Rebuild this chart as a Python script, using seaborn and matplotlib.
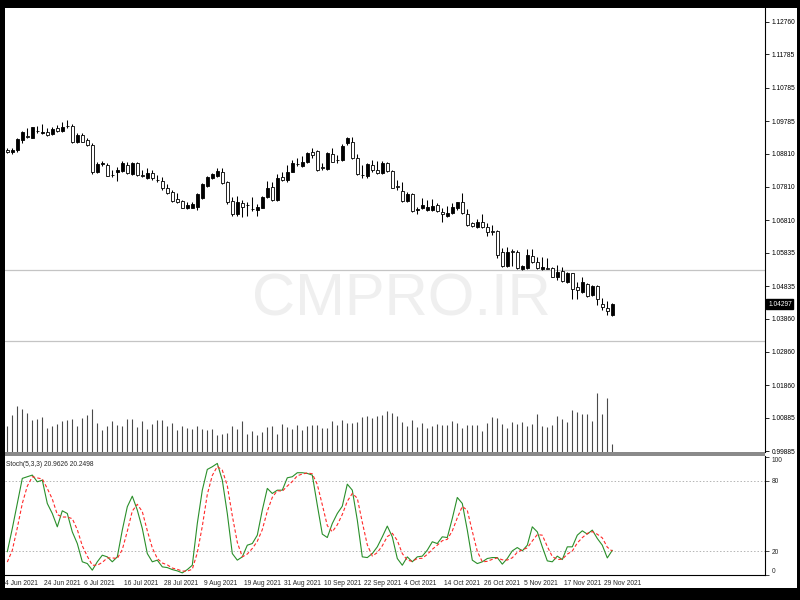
import numpy as np
import matplotlib
matplotlib.use("Agg")
import matplotlib.pyplot as plt
import seaborn as sns
from matplotlib.patches import Rectangle
from matplotlib.transforms import blended_transform_factory

# --- DATA (daily candles) ---
opens = [1.0893, 1.0886, 1.0892, 1.0922, 1.0933, 1.0929, 1.0950, 1.0944, 1.0947, 1.0940,
         1.0957, 1.0950, 1.0963, 1.0964, 1.0915, 1.0937, 1.0922, 1.0907, 1.0825, 1.0851,
         1.0847, 1.0818, 1.0825, 1.0830, 1.0847, 1.0820, 1.0852, 1.0816, 1.0807, 1.0822,
         1.0803, 1.0799, 1.0779, 1.0767, 1.0745, 1.0739, 1.0717, 1.0719, 1.0722, 1.0749,
         1.0785, 1.0807, 1.0815, 1.0827, 1.0795, 1.0739, 1.0699, 1.0732, 1.0728, 1.0716,
         1.0712, 1.0719, 1.0752, 1.0782, 1.0742, 1.0812, 1.0802, 1.0827, 1.0849, 1.0845,
         1.0855, 1.0887, 1.0889, 1.0840, 1.0835, 1.0879, 1.0861, 1.0862, 1.0912, 1.0915,
         1.0867, 1.0818, 1.0815, 1.0847, 1.0832, 1.0822, 1.0852, 1.0829, 1.0783, 1.0769,
         1.0739, 1.0759, 1.0713, 1.0717, 1.0712, 1.0712, 1.0727, 1.0707, 1.0695, 1.0702,
         1.0717, 1.0737, 1.0700, 1.0672, 1.0660, 1.0675, 1.0662, 1.0648, 1.0650, 1.0587,
         1.0544, 1.0588, 1.0587, 1.0534, 1.0537, 1.0574, 1.0557, 1.0534, 1.0538, 1.0537,
         1.0510, 1.0529, 1.0497, 1.0522, 1.0482, 1.0467, 1.0490, 1.0457, 1.0484, 1.0430,
         1.0417, 1.0397]
highs = [1.0897, 1.0899, 1.0927, 1.0950, 1.0958, 1.0962, 1.0964, 1.0970, 1.0958, 1.0962,
         1.0967, 1.0977, 1.0982, 1.0970, 1.0942, 1.0942, 1.0927, 1.0912, 1.0857, 1.0860,
         1.0854, 1.0832, 1.0842, 1.0860, 1.0857, 1.0857, 1.0857, 1.0832, 1.0837, 1.0832,
         1.0817, 1.0812, 1.0789, 1.0772, 1.0762, 1.0742, 1.0735, 1.0735, 1.0762, 1.0792,
         1.0815, 1.0822, 1.0839, 1.0837, 1.0799, 1.0752, 1.0755, 1.0742, 1.0735, 1.0752,
         1.0729, 1.0755, 1.0799, 1.0797, 1.0819, 1.0827, 1.0847, 1.0862, 1.0869, 1.0875,
         1.0887, 1.0897, 1.0892, 1.0852, 1.0885, 1.0899, 1.0877, 1.0909, 1.0932, 1.0932,
         1.0879, 1.0847, 1.0852, 1.0862, 1.0859, 1.0859, 1.0857, 1.0832, 1.0802, 1.0797,
         1.0767, 1.0762, 1.0722, 1.0747, 1.0742, 1.0745, 1.0732, 1.0717, 1.0725, 1.0732,
         1.0737, 1.0762, 1.0714, 1.0677, 1.0684, 1.0700, 1.0672, 1.0667, 1.0652, 1.0597,
         1.0600, 1.0594, 1.0592, 1.0547, 1.0594, 1.0594, 1.0572, 1.0572, 1.0567, 1.0540,
         1.0547, 1.0542, 1.0527, 1.0524, 1.0497, 1.0510, 1.0492, 1.0487, 1.0487, 1.0447,
         1.0440, 1.0432]
lows = [1.0884, 1.0879, 1.0887, 1.0912, 1.0928, 1.0927, 1.0943, 1.0940, 1.0935, 1.0937,
        1.0947, 1.0947, 1.0957, 1.0914, 1.0914, 1.0915, 1.0905, 1.0820, 1.0822, 1.0844,
        1.0814, 1.0812, 1.0799, 1.0827, 1.0820, 1.0817, 1.0814, 1.0812, 1.0805, 1.0802,
        1.0795, 1.0772, 1.0759, 1.0735, 1.0732, 1.0717, 1.0715, 1.0717, 1.0712, 1.0745,
        1.0782, 1.0804, 1.0812, 1.0789, 1.0729, 1.0695, 1.0695, 1.0692, 1.0695, 1.0709,
        1.0695, 1.0717, 1.0747, 1.0739, 1.0739, 1.0799, 1.0797, 1.0825, 1.0845, 1.0842,
        1.0852, 1.0867, 1.0829, 1.0832, 1.0832, 1.0855, 1.0852, 1.0859, 1.0907, 1.0865,
        1.0817, 1.0807, 1.0809, 1.0827, 1.0819, 1.0819, 1.0827, 1.0777, 1.0772, 1.0735,
        1.0735, 1.0705, 1.0699, 1.0715, 1.0709, 1.0709, 1.0705, 1.0677, 1.0692, 1.0699,
        1.0712, 1.0700, 1.0664, 1.0660, 1.0657, 1.0657, 1.0634, 1.0637, 1.0567, 1.0540,
        1.0542, 1.0544, 1.0534, 1.0532, 1.0534, 1.0554, 1.0534, 1.0532, 1.0534, 1.0510,
        1.0502, 1.0497, 1.0494, 1.0444, 1.0444, 1.0464, 1.0452, 1.0454, 1.0427, 1.0412,
        1.0397, 1.0395]
closes = [1.0887, 1.0892, 1.0924, 1.0947, 1.0931, 1.0960, 1.0948, 1.0946, 1.0937, 1.0955,
          1.0949, 1.0962, 1.0965, 1.0915, 1.0937, 1.0917, 1.0907, 1.0827, 1.0849, 1.0853,
          1.0815, 1.0816, 1.0832, 1.0852, 1.0822, 1.0852, 1.0817, 1.0814, 1.0824, 1.0807,
          1.0801, 1.0777, 1.0762, 1.0739, 1.0735, 1.0719, 1.0727, 1.0729, 1.0760, 1.0789,
          1.0812, 1.0819, 1.0829, 1.0792, 1.0735, 1.0699, 1.0735, 1.0722, 1.0726, 1.0714,
          1.0722, 1.0752, 1.0779, 1.0742, 1.0809, 1.0802, 1.0825, 1.0852, 1.0851, 1.0855,
          1.0882, 1.0877, 1.0832, 1.0838, 1.0882, 1.0857, 1.0863, 1.0905, 1.0927, 1.0867,
          1.0819, 1.0816, 1.0849, 1.0832, 1.0822, 1.0852, 1.0829, 1.0779, 1.0781, 1.0739,
          1.0759, 1.0709, 1.0715, 1.0727, 1.0722, 1.0724, 1.0709, 1.0699, 1.0702, 1.0722,
          1.0735, 1.0702, 1.0667, 1.0664, 1.0677, 1.0662, 1.0647, 1.0646, 1.0577, 1.0544,
          1.0587, 1.0586, 1.0537, 1.0544, 1.0577, 1.0557, 1.0537, 1.0542, 1.0536, 1.0512,
          1.0527, 1.0500, 1.0522, 1.0474, 1.0472, 1.0497, 1.0454, 1.0484, 1.0444, 1.0420,
          1.0410, 1.04297]
volumes = [77, 110, 137, 128, 117, 95, 98, 105, 72, 77,
           85, 92, 95, 98, 77, 102, 110, 128, 87, 65,
           77, 92, 80, 77, 98, 98, 74, 92, 70, 85,
           95, 95, 79, 87, 65, 77, 72, 70, 77, 70,
           65, 68, 52, 55, 58, 77, 70, 92, 54, 62,
           50, 60, 74, 77, 54, 84, 74, 68, 80, 65,
           79, 80, 80, 72, 72, 92, 82, 95, 87, 87,
           90, 104, 107, 102, 108, 110, 122, 118, 107, 90,
           78, 96, 75, 87, 72, 77, 83, 80, 80, 92,
           87, 72, 80, 80, 80, 63, 87, 105, 102, 84,
           72, 90, 84, 90, 77, 84, 114, 77, 74, 82,
           107, 99, 90, 125, 120, 114, 114, 93, 177, 114,
           162, 24]
stoch_k = [19.7, 39.5, 60.7, 82.0, 83.4, 84.8, 79.1, 80.5, 60.7, 52.2,
           40.9, 54.5, 52.2, 36.6, 26.7, 11.2, 9.7, 4.1, 11.2, 16.8,
           15.4, 11.2, 15.4, 38.1, 57.9, 66.9, 55.1, 39.5, 18.2, 11.2,
           12.6, 6.9, 6.3, 4.6, 3.5, 1.8, 4.6, 8.3, 43.7, 72.0,
           89.6, 91.9, 94.7, 80.5, 52.2, 18.2, 12.6, 15.4, 25.3, 26.7,
           33.8, 55.1, 73.5, 69.2, 72.0, 72.0, 82.5, 83.4, 86.8, 86.8,
           86.2, 84.8, 59.3, 34.7, 31.8, 43.7, 52.2, 58.4, 77.1, 72.0,
           46.6, 15.4, 14.8, 18.2, 23.9, 32.4, 41.5, 32.4, 14.0, 8.3,
           15.4, 11.2, 15.4, 16.0, 21.1, 28.2, 26.7, 32.4, 31.8, 48.0,
           65.8, 60.7, 38.1, 12.6, 9.7, 11.2, 14.0, 14.8, 14.8, 9.2,
           14.0, 20.5, 23.3, 20.5, 25.3, 40.9, 36.6, 23.9, 12.0, 11.2,
           16.0, 13.1, 23.9, 23.9, 33.8, 37.5, 34.7, 38.1, 31.0, 25.3,
           14.5, 20.96]
stoch_d = [11.0, 21.0, 40.0, 60.7, 75.4, 83.4, 82.4, 81.5, 73.4, 64.5,
           51.3, 49.2, 49.2, 47.8, 38.5, 24.8, 15.9, 8.3, 8.3, 10.7,
           14.5, 14.5, 14.0, 21.6, 37.1, 54.3, 60.0, 53.8, 37.6, 23.0,
           14.0, 10.2, 8.6, 5.9, 4.8, 3.3, 3.3, 4.9, 18.9, 41.3,
           68.4, 84.5, 92.1, 89.0, 75.8, 50.3, 27.7, 15.4, 17.8, 22.5,
           28.6, 38.5, 54.1, 65.9, 71.6, 71.1, 75.5, 79.3, 84.2, 85.7,
           86.6, 85.9, 76.8, 59.6, 41.9, 36.7, 42.6, 51.4, 62.6, 69.2,
           65.2, 44.7, 25.6, 16.1, 19.0, 24.8, 32.6, 35.4, 29.3, 18.2,
           12.6, 11.6, 14.0, 14.2, 17.5, 21.8, 25.3, 29.1, 30.3, 37.4,
           48.5, 58.2, 54.9, 37.1, 20.1, 11.2, 11.6, 13.3, 14.5, 12.9,
           12.7, 14.6, 19.3, 21.4, 23.0, 28.9, 34.3, 33.8, 24.2, 15.7,
           13.1, 13.4, 17.7, 20.3, 27.2, 31.7, 35.3, 36.8, 34.6, 31.5,
           23.6, 20.25]
date_labels = ["4 Jun 2021", "24 Jun 2021", "6 Jul 2021", "16 Jul 2021", "28 Jul 2021",
               "9 Aug 2021", "19 Aug 2021", "31 Aug 2021", "10 Sep 2021", "22 Sep 2021",
               "4 Oct 2021", "14 Oct 2021", "26 Oct 2021", "5 Nov 2021", "17 Nov 2021",
               "29 Nov 2021"]
date_pos = [-0.8, 7, 15, 23, 31, 39, 47, 55, 63, 71, 79, 87, 95, 103, 111, 119]
price_ticks = [1.12760, 1.11785, 1.10785, 1.09785, 1.08810, 1.07810, 1.06810, 1.05835,
               1.04835, 1.03860, 1.02860, 1.01860, 1.00885, 0.99885]
level_lines = [1.0533, 1.0320]
last_price = 1.04297
stoch_levels = [20, 80]

# --- STYLE ---
sns.set_style("white")
plt.rcParams['font.family'] = ['Liberation Sans', 'DejaVu Sans']
FS = 4.8

W, H = 800, 600
fig = plt.figure(figsize=(8, 6), dpi=100, facecolor='black')
# white chart window inside the black frame
fig.add_artist(Rectangle((5 / W, 12 / H), 792 / W, 580 / H, transform=fig.transFigure,
                         facecolor='white', edgecolor='none', zorder=-10))

ax = fig.add_axes([5 / W, 148 / H, 760 / W, 444 / H])
ax_s = fig.add_axes([5 / W, 25 / H, 760 / W, 119 / H], sharex=ax)
fig.add_artist(Rectangle((5 / W, 144 / H), 760 / W, 4 / H, transform=fig.transFigure,
                         facecolor='#8a8a8a', edgecolor='none', zorder=5))

idx = np.arange(len(opens))
o = np.array(opens)
c = np.array(closes)
bull = c >= o

# --- MAIN PRICE WINDOW ---
for lv in level_lines:
    ax.axhline(lv, color='#c4c4c4', lw=0.9, zorder=1)

ax.text(0.522, 1.0443, "CMPRO.IR", transform=blended_transform_factory(ax.transAxes, ax.transData),
        ha='center', va='center', fontsize=43, color='#efefef', zorder=0.5)

ax.vlines(idx, lows, highs, color='black', lw=0.75, zorder=2)
body_lo = np.minimum(o, c)
body_h = np.maximum(np.abs(c - o), 0.00003)
ax.bar(idx, body_h, bottom=body_lo, width=0.62,
       color=np.where(bull, 'black', 'white'), edgecolor='black', linewidth=0.6, zorder=3)

# volumes at the bottom of the main window
ax_v = ax.twinx()
ax_v.vlines(idx, 0, volumes, color='#4a4a4a', lw=0.8)
ax_v.set_ylim(0, 1332)
ax_v.axis('off')

ax.set_xlim(-0.46, 151.54)
ax.set_ylim(0.9986, 1.1318)
ax.yaxis.tick_right()
ax.set_yticks(price_ticks)
ax.set_yticklabels([f"{v:.5f}" for v in price_ticks])
ax.tick_params(axis='y', length=3, width=0.6, pad=1.5, labelsize=FS, colors='black')
ax.tick_params(axis='x', bottom=False, labelbottom=False)
for s in ['top', 'left', 'bottom']:
    ax.spines[s].set_visible(False)
ax.spines['right'].set_color('black')
ax.spines['right'].set_linewidth(0.8)
ax.set_facecolor('white')

ax.annotate(f"{last_price:.5f}", xy=(1, last_price), xycoords=('axes fraction', 'data'),
            xytext=(2.2, 0), textcoords='offset points', ha='left', va='center',
            color='white', fontsize=FS, annotation_clip=False,
            bbox=dict(boxstyle='square,pad=0.25', fc='black', ec='black'), zorder=10)

# --- STOCHASTIC WINDOW ---
for lv in stoch_levels:
    ax_s.axhline(lv, color='#b4b4b4', lw=0.7, ls=(0, (1.5, 2)))
sns.lineplot(x=idx, y=stoch_k, ax=ax_s, color='#2a8f2a', lw=0.8)
sns.lineplot(x=idx, y=stoch_d, ax=ax_s, color='#ff2a2a', lw=0.8, linestyle=(0, (3, 2)))
ax_s.set_ylim(0, 101)
ax_s.set_xlim(-0.46, 151.54)
ax_s.set_ylabel('')
ax_s.yaxis.tick_right()
ax_s.set_yticks([0, 20, 80, 100])
ax_s.set_yticklabels(['0', '20', '80', '100'])
ax_s.tick_params(axis='y', length=3, width=0.6, pad=1.5, labelsize=FS)
lbls = ax_s.get_yticklabels()
lbls[0].set_va('bottom')
lbls[3].set_va('top')
ax_s.set_xticks(date_pos[1:])
ax_s.tick_params(axis='x', length=3, width=0.6, labelbottom=False)
for s in ['top', 'left']:
    ax_s.spines[s].set_visible(False)
for s in ['right', 'bottom']:
    ax_s.spines[s].set_color('black')
    ax_s.spines[s].set_linewidth(0.8)

tr = blended_transform_factory(ax_s.transData, ax_s.transAxes)
for p, lab in zip(date_pos, date_labels):
    ax_s.text(p + 0.35, -0.07, lab, transform=tr, ha='left', va='center',
              fontsize=FS, clip_on=False)

ax_s.text(0.0015, 0.925, "Stoch(5,3,3) 20.9626 20.2498", transform=ax_s.transAxes,
          ha='left', va='center', fontsize=FS)

fig.savefig("out.png", dpi=100, facecolor='black')
